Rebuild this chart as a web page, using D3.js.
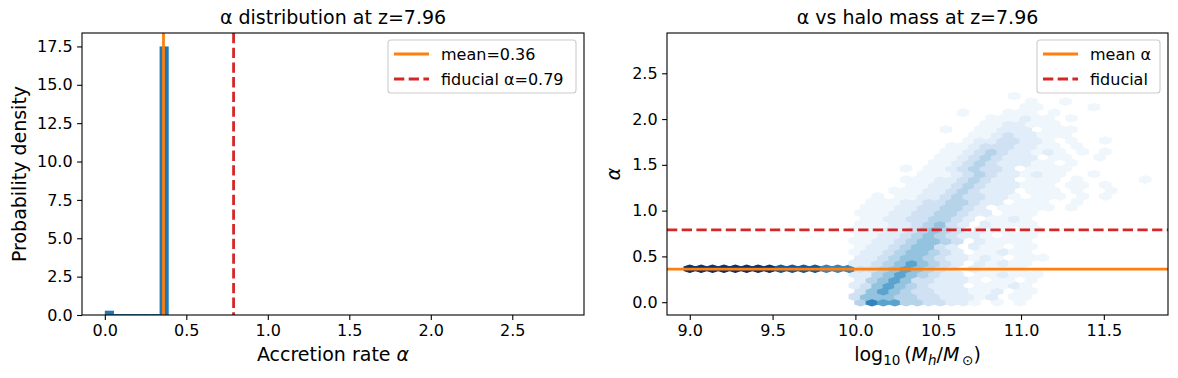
<!DOCTYPE html>
<html>
<head>
<meta charset="utf-8">
<script src="https://cdn.jsdelivr.net/npm/d3@7"></script>
<style>
  body { margin: 0; background: #fff; }
  svg { font-family: "DejaVu Sans", sans-serif; }
</style>
</head>
<body>
<svg id="fig" width="1178" height="378"></svg>
<script>
// ---- data ----
// alpha histogram (density=True), 50 bins on [0, 2.8]; bins after these are empty
var histRange = [0, 2.8];
var histBins = 50;
var histHeights = [0.28, 0.06, 0.06, 0.06, 0.06, 0.06, 17.5];
var meanAlpha = 0.36;
var fiducialAlpha = 0.79;

var histXTicks = [0, 0.5, 1.0, 1.5, 2.0, 2.5];
var histYTicks = [0, 2.5, 5, 7.5, 10, 12.5, 15, 17.5];
var hexXTicks = [9.0, 9.5, 10.0, 10.5, 11.0, 11.5];
var hexYTicks = [0, 0.5, 1.0, 1.5, 2.0, 2.5];

// hexbin grid (gridsize 40) over the data extent
var hexXRange = [9.0, 11.75];
var hexYRange = [0, 2.8];
var gridsize = 40;

// one entry per hex row (row r sits at alpha = r * sy / 2, odd rows are the offset lattice)
// [first column, intensity levels 1..9 per column, ' ' = empty]
var hexRows = [
  [15, "47664433221 1 1"],
  [14, "3555443322212 11"],
  [15, "3565433222112 11"],
  [14, "2356543222 11121"],
  [15, "24565332221 11 1"],
  [14, "2245654322 112111"],
  [0,  "999999998888777334565432 21111"],
  [14, "2234565432 21211"],
  [15, "2234554322121 111"],
  [14, "1223455432 11211"],
  [15, "122345532 211 11"],
  [14, "1122345543 21111"],
  [15, "112234543221 111"],
  [14, "1112234543 211 11"],
  [15, "1112234532 21111"],
  [15, "1122334432 1121"],
  [15, "111223344322 111"],
  [15, "11122334432 11111 1"],
  [16, "111223344322 111  1"],
  [16, "1 11223433221 111 1 1"],
  [18, "11122343222 111 1  1"],
  [19, "1122343222111 11 1"],
  [19, "1112234322 111 1     1"],
  [20, "1112343221211  1"],
  [19, "1 11234332 1111"],
  [21, "11234322211 1"],
  [22, "112343222 11  1"],
  [22, "11234322121 1 1"],
  [23, "1123332211 1"],
  [24, "12233221 1  1"],
  [25, "112322111"],
  [22, "1  11222 111"],
  [26, "1122111"],
  [26, "111211 1"],
  [24, "1   111 1"],
  [29, "11    1"],
  [30, "1  1"],
  [28, "1"]
];

// level -> position on the Blues colormap
var levelShade = [0, 0.04, 0.11, 0.2, 0.3, 0.4, 0.55, 0.68, 0.85, 1.0];

var C_BLUE = '#1f77b4', C_ORANGE = '#ff7f0e', C_RED = '#d62728';
var LW = 2.8;

var svg = d3.select('#fig');

var leftBox = {x0: 82, x1: 584, y0: 33, y1: 315};
var rightBox = {x0: 667, x1: 1168, y0: 33, y1: 315};

// margins like matplotlib (5% on each side)
function padded(r) {
  var d = (r[1] - r[0]) * 0.05;
  return [r[0] - d, r[1] + d];
}

function drawAxes(box, x, y, xticks, yticks) {
  var g = svg.append('g');
  var xa = g.append('g')
    .attr('transform', 'translate(0,' + box.y1 + ')')
    .call(d3.axisBottom(x).tickValues(xticks).tickFormat(d3.format('.1f'))
      .tickSize(4.9).tickPadding(4.5));
  var ya = g.append('g')
    .attr('transform', 'translate(' + box.x0 + ',0)')
    .call(d3.axisLeft(y).tickValues(yticks).tickFormat(d3.format('.1f'))
      .tickSize(4.9).tickPadding(4.5));
  [xa, ya].forEach(function (a) {
    a.select('.domain').remove();
    a.selectAll('line').attr('stroke', '#000').attr('stroke-width', 1.1);
    a.selectAll('text').attr('fill', '#000').style('font-size', '16px')
      .style('font-family', '"DejaVu Sans", sans-serif');
  });
  g.append('rect')
    .attr('x', box.x0).attr('y', box.y0)
    .attr('width', box.x1 - box.x0).attr('height', box.y1 - box.y0)
    .attr('fill', 'none').attr('stroke', '#000').attr('stroke-width', 1.1);
}

function drawLegend(x0, y0, w, h, items) {
  var g = svg.append('g');
  g.append('rect')
    .attr('x', x0).attr('y', y0).attr('width', w).attr('height', h)
    .attr('rx', 3).attr('fill', 'rgba(255,255,255,0.8)')
    .attr('stroke', '#cccccc').attr('stroke-width', 1.1);
  items.forEach(function (it, k) {
    var cy = y0 + 14 + k * 25;
    g.append('line')
      .attr('x1', x0 + 6).attr('x2', x0 + 41)
      .attr('y1', cy).attr('y2', cy)
      .attr('stroke', it.color).attr('stroke-width', LW)
      .attr('stroke-dasharray', it.dash ? '10.3,4.4' : null);
    g.append('text')
      .attr('x', x0 + 53).attr('y', cy + 6)
      .style('font-size', '16px')
      .text(it.label);
  });
}

// ---------- left: histogram ----------
var xL = d3.scaleLinear().domain(padded(histRange)).range([leftBox.x0, leftBox.x1]);
var yL = d3.scaleLinear().domain([0, d3.max(histHeights) * 1.05]).range([leftBox.y1, leftBox.y0]);

var binW = (histRange[1] - histRange[0]) / histBins;
var bins = d3.range(histBins).map(function (k) {
  return {x0: histRange[0] + k * binW, x1: histRange[0] + (k + 1) * binW, h: histHeights[k] || 0};
}).filter(function (b) { return b.h > 0; });

svg.append('g').selectAll('rect').data(bins).enter().append('rect')
  .attr('x', function (d) { return xL(d.x0); })
  .attr('width', function (d) { return xL(d.x1) - xL(d.x0); })
  .attr('y', function (d) { return yL(d.h); })
  .attr('height', function (d) { return yL(0) - yL(d.h); })
  .attr('fill', C_BLUE);

svg.append('line')
  .attr('x1', xL(meanAlpha)).attr('x2', xL(meanAlpha))
  .attr('y1', leftBox.y0).attr('y2', leftBox.y1)
  .attr('stroke', C_ORANGE).attr('stroke-width', LW);
svg.append('line')
  .attr('x1', xL(fiducialAlpha)).attr('x2', xL(fiducialAlpha))
  .attr('y1', leftBox.y0).attr('y2', leftBox.y1)
  .attr('stroke', C_RED).attr('stroke-width', LW)
  .attr('stroke-dasharray', '10.3,4.4');

drawAxes(leftBox, xL, yL, histXTicks, histYTicks);

svg.append('text')
  .attr('x', (leftBox.x0 + leftBox.x1) / 2).attr('y', 24)
  .attr('text-anchor', 'middle').style('font-size', '19px')
  .text('α distribution at z=7.96');

var xlab = svg.append('text')
  .attr('x', (leftBox.x0 + leftBox.x1) / 2).attr('y', 361)
  .attr('text-anchor', 'middle').style('font-size', '19px');
xlab.append('tspan').text('Accretion rate ');
xlab.append('tspan').attr('font-style', 'italic').text('α');

svg.append('text')
  .attr('transform', 'translate(26,' + (leftBox.y0 + leftBox.y1) / 2 + ') rotate(-90)')
  .attr('text-anchor', 'middle').style('font-size', '19px')
  .text('Probability density');

drawLegend(388, 40, 188, 53, [
  {label: 'mean=' + meanAlpha.toFixed(2), color: C_ORANGE},
  {label: 'fiducial α=' + fiducialAlpha.toFixed(2), color: C_RED, dash: true}
]);

// ---------- right: hexbin ----------
var xR = d3.scaleLinear().domain(padded(hexXRange)).range([rightBox.x0, rightBox.x1]);
var yR = d3.scaleLinear().domain(padded(hexYRange)).range([rightBox.y1, rightBox.y0]);

var sx = (hexXRange[1] - hexXRange[0]) / gridsize;
var ny = Math.floor(gridsize / Math.sqrt(3));
var sy = (hexYRange[1] - hexYRange[0]) / ny;

var cells = [];
hexRows.forEach(function (row, r) {
  var start = row[0], s = row[1];
  for (var k = 0; k < s.length; k++) {
    if (s[k] === ' ') continue;
    var i = start + k;
    cells.push({
      x: hexXRange[0] + (i + (r % 2) * 0.5) * sx,
      y: hexYRange[0] + r * sy / 2,
      level: +s[k]
    });
  }
});

var hexOffsets = [[0.5, -0.5], [0.5, 0.5], [0, 1], [-0.5, 0.5], [-0.5, -0.5], [0, -1]];
function hexPath(d) {
  return 'M' + hexOffsets.map(function (o) {
    return xR(d.x + o[0] * sx) + ',' + yR(d.y + o[1] * sy / 3);
  }).join('L') + 'Z';
}

svg.append('clipPath').attr('id', 'clipR').append('rect')
  .attr('x', rightBox.x0).attr('y', rightBox.y0)
  .attr('width', rightBox.x1 - rightBox.x0).attr('height', rightBox.y1 - rightBox.y0);

var plotR = svg.append('g').attr('clip-path', 'url(#clipR)');

plotR.selectAll('path.hex').data(cells).enter().append('path')
  .attr('class', 'hex')
  .attr('d', hexPath)
  .attr('fill', function (d) { return d3.interpolateBlues(levelShade[d.level]); })
  .attr('stroke', function (d) { return d3.interpolateBlues(levelShade[d.level]); })
  .attr('stroke-width', 1.2);

plotR.append('line')
  .attr('x1', rightBox.x0).attr('x2', rightBox.x1)
  .attr('y1', yR(meanAlpha)).attr('y2', yR(meanAlpha))
  .attr('stroke', C_ORANGE).attr('stroke-width', LW);
plotR.append('line')
  .attr('x1', rightBox.x0).attr('x2', rightBox.x1)
  .attr('y1', yR(fiducialAlpha)).attr('y2', yR(fiducialAlpha))
  .attr('stroke', C_RED).attr('stroke-width', LW)
  .attr('stroke-dasharray', '10.3,4.4');

drawAxes(rightBox, xR, yR, hexXTicks, hexYTicks);

svg.append('text')
  .attr('x', (rightBox.x0 + rightBox.x1) / 2).attr('y', 24)
  .attr('text-anchor', 'middle').style('font-size', '19px')
  .text('α vs halo mass at z=7.96');

var xlabR = svg.append('text')
  .attr('x', (rightBox.x0 + rightBox.x1) / 2).attr('y', 361)
  .attr('text-anchor', 'middle').style('font-size', '19px');
xlabR.append('tspan').text('log');
xlabR.append('tspan').attr('dy', 4).style('font-size', '13.5px').text('10');
xlabR.append('tspan').attr('dy', -4).text('\u2009(');
xlabR.append('tspan').attr('font-style', 'italic').text('M');
xlabR.append('tspan').attr('dy', 4).attr('font-style', 'italic').style('font-size', '13.5px').text('h');
xlabR.append('tspan').attr('dy', -4).text('/');
xlabR.append('tspan').attr('font-style', 'italic').text('M');
xlabR.append('tspan').attr('dy', 4).style('font-size', '13.5px').text('\u2009⊙');
xlabR.append('tspan').attr('dy', -4).text(')');

svg.append('text')
  .attr('transform', 'translate(620,' + (rightBox.y0 + rightBox.y1) / 2 + ') rotate(-90)')
  .attr('text-anchor', 'middle').style('font-size', '19px')
  .attr('font-style', 'italic')
  .text('α');

drawLegend(1037, 40, 123, 53, [
  {label: 'mean α', color: C_ORANGE},
  {label: 'fiducial', color: C_RED, dash: true}
]);
</script>
</body>
</html>
